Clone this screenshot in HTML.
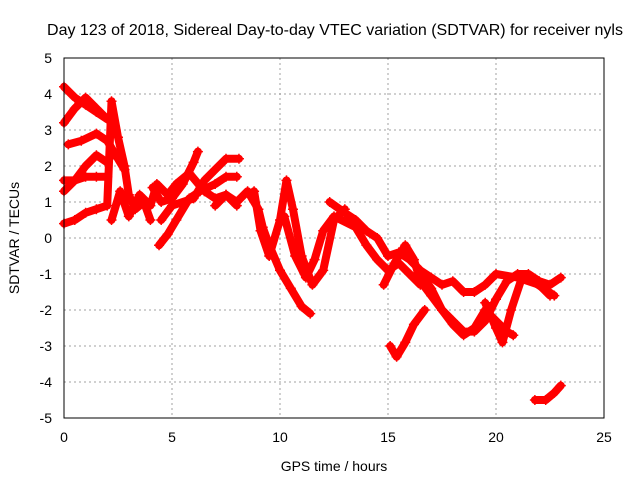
<!DOCTYPE html>
<html><head><meta charset="utf-8"><style>
body{margin:0;background:#fff;}
svg{display:block;font-family:"Liberation Sans",sans-serif;}
</style></head><body>
<svg id="chart" width="640" height="480">
<rect width="640" height="480" fill="#fff"/>
<text x="335" y="35" font-size="16" text-anchor="middle">Day 123 of 2018, Sidereal Day-to-day VTEC variation (SDTVAR) for receiver nyls</text>
<text x="334" y="471" font-size="14" text-anchor="middle">GPS time / hours</text>
<text transform="translate(19,238) rotate(-90)" font-size="14" text-anchor="middle">SDTVAR / TECUs</text>
<g id="grid"></g><g id="ticks"></g><g id="marks"></g>
<rect x="64" y="58" width="540" height="360" fill="none" stroke="#000" stroke-width="1"/>
</svg>
<script>
const xTicks=[0,5,10,15,20,25];
const yTicks=[-5,-4,-3,-2,-1,0,1,2,3,4,5];
const sA=[[0,4.2],[0.5,3.9],[1,3.7],[1.5,3.5],[2,3.3]];
const sB=[[0,3.2],[0.5,3.6],[1,3.9],[1.5,3.6],[2,3.3]];
const sC=[[0.2,2.6],[0.8,2.7],[1.5,2.9],[2,2.7],[2.5,2.2],[2.8,1.9]];
const sD=[[0,1.3],[0.5,1.6],[1,2.0],[1.5,2.3],[2,2.1]];
const sE=[[0,1.6],[0.5,1.6],[1,1.7],[1.5,1.7],[2,1.7]];
const sF=[[0,0.4],[0.5,0.5],[1,0.7],[1.5,0.8],[2,0.9],[2.2,3.8],[2.5,2.8],[2.8,2.0],[3,1.2],[3.3,0.8],[3.7,1.0],[4,0.5]];
const sG=[[2.2,0.5],[2.6,1.3],[3,0.6],[3.5,1.2],[4,0.9],[4.3,1.5],[4.8,1.2],[5.2,1.5],[5.8,1.8],[6.5,1.3],[7,1.1],[7.5,1.2],[8,0.9]];
const sH=[[4.4,-0.2],[4.8,0.1],[5.2,0.5],[5.8,1.1],[6.3,1.3],[7,1.5],[7.5,1.7],[8,1.7]];
const sI=[[4.1,1.4],[4.5,1.0],[5,1.1],[5.5,1.5],[6,2.1],[6.2,2.4]];
const sJ=[[4.5,0.5],[5,0.9],[6,1.1],[6.5,1.6],[7,1.9],[7.5,2.2],[8.1,2.2]];
const sK=[[7,0.9],[7.5,1.2],[8,1.0],[8.5,1.3],[9,0.8],[9.2,0.3],[9.5,-0.2],[10,-0.9],[10.5,-1.4],[11,-1.9],[11.4,-2.1]];
const sL=[[8.8,1.3],[9.1,0.2],[9.5,-0.5],[10,0.5],[10.3,1.6],[10.6,0.8],[11,-0.5],[11.5,-1.3],[12,-0.9],[12.5,0.5],[13,0.8]];
const sM=[[10.2,0.6],[10.7,-0.5],[11.2,-1.1],[11.6,-0.6],[12,0.2],[12.5,0.6],[13.5,0.3],[14,-0.2],[14.5,-0.6],[15,-0.9],[15.5,-0.7],[16,-1.0],[16.5,-1.3]];
const sN=[[12.3,1.0],[13,0.7],[13.5,0.5],[14,0.2],[14.5,0],[15,-0.5],[15.5,-0.4],[16,-0.6],[16.5,-0.9],[17,-1.1],[17.5,-1.3],[18,-1.2],[18.5,-1.5],[19,-1.5],[19.5,-1.3],[20,-1.0],[21,-1.1],[22,-1.3],[22.5,-1.6]];
const sO=[[14.8,-1.3],[15.3,-0.7],[15.8,-0.2],[16.2,-0.6],[16.5,-1.2],[17,-1.6],[17.5,-2.0],[18,-2.3],[18.5,-2.6],[19,-2.6],[19.5,-2.3],[20,-1.7],[20.5,-1.2],[21,-1.0],[21.5,-1.0],[22,-1.2],[22.5,-1.3],[23,-1.1]];
const sP=[[15.1,-3.0],[15.4,-3.3],[15.8,-2.9],[16.2,-2.4],[16.7,-2.0]];
const sQ=[[16.5,-1.0],[17,-1.4],[17.5,-2.0],[18,-2.4],[18.5,-2.7],[19,-2.5],[19.5,-2.0],[20,-2.3],[20.5,-2.6],[20.8,-2.7]];
const sR=[[19.5,-1.8],[20,-2.5],[20.3,-2.9],[20.7,-2.0],[21.2,-1.1],[21.7,-1.2],[22.2,-1.4],[22.7,-1.6]];
const sS=[[21.8,-4.5],[22.3,-4.5],[22.7,-4.3],[23,-4.1]];
const allSeries=[sA,sB,sC,sD,sE,sF,sG,sH,sI,sJ,sK,sL,sM,sN,sO,sP,sQ,sR,sS];

const NS="http://www.w3.org/2000/svg";
const X=v=>64+v*21.6, Y=v=>238-v*36;
function mk(tag,attrs,parent){const e=document.createElementNS(NS,tag);for(const k in attrs)e.setAttribute(k,attrs[k]);parent.appendChild(e);return e;}
const grid=document.getElementById('grid'),ticks=document.getElementById('ticks'),marks=document.getElementById('marks');
xTicks.forEach(t=>{
  if(t>0&&t<25){const g=mk('line',{x1:X(t),x2:X(t),y1:58,y2:418,stroke:'#a0a0a0','stroke-dasharray':'2,3'},grid);
  
  }
  const l=mk('text',{x:X(t),y:442,'font-size':14,'text-anchor':'middle'},ticks);l.textContent=t;
  
  
});
yTicks.forEach(t=>{
  if(t>-5&&t<5){const g=mk('line',{x1:64,x2:604,y1:Y(t),y2:Y(t),stroke:'#a0a0a0','stroke-dasharray':'2,3'},grid);
  
  }
  const l=mk('text',{x:52,y:Y(t)+5,'font-size':14,'text-anchor':'end'},ticks);l.textContent=t;
  
  
});
allSeries.forEach((s,i)=>{
  const g=mk('g',{},marks);
  
  
  mk('polyline',{points:s.map(p=>X(p[0])+','+Y(p[1])).join(' '),fill:'none',stroke:'#ff0000','stroke-width':8,'stroke-linejoin':'round','stroke-linecap':'round'},g);
  s.forEach(p=>{
    const m=mk('path',{d:`M${X(p[0])-5},${Y(p[1])}h10M${X(p[0])},${Y(p[1])-5}v10`,stroke:'#ff0000','stroke-width':1.5},g);
    
    
  });
});
</script>
</body></html>
